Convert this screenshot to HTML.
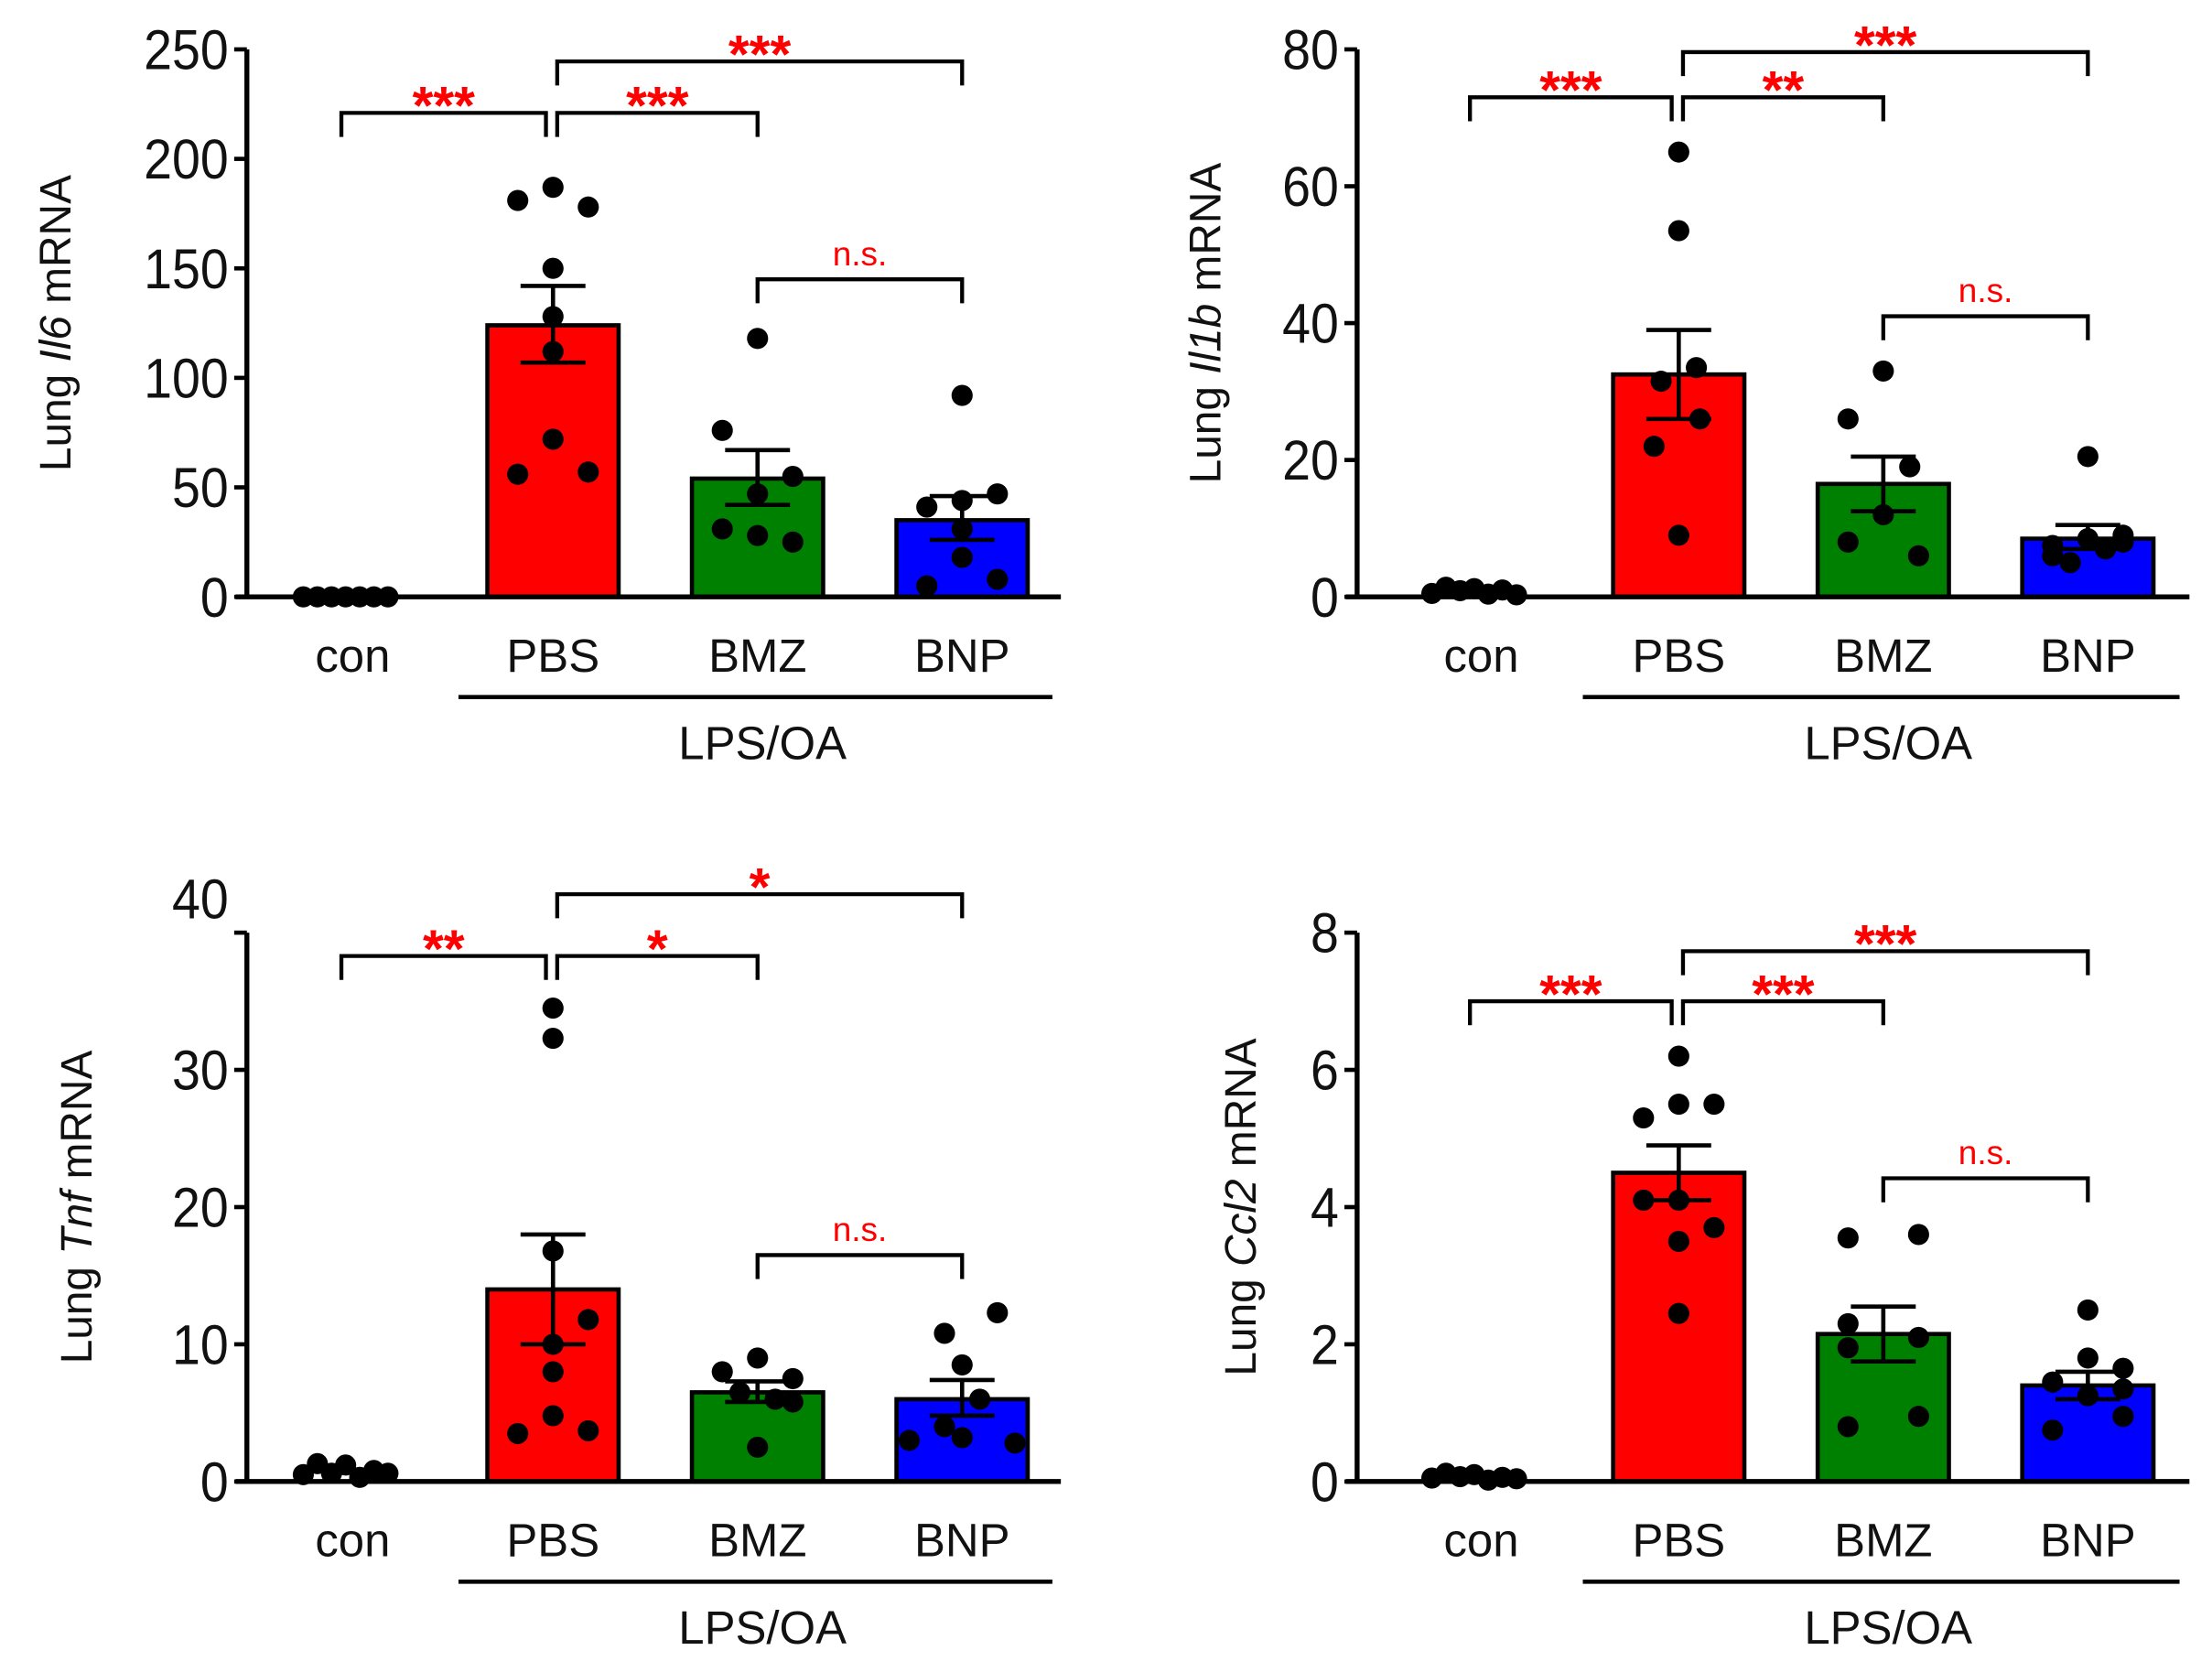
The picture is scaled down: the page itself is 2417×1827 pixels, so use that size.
<!DOCTYPE html>
<html><head><meta charset="utf-8"><style>
html,body{margin:0;padding:0;background:#fff;}
svg{display:block;font-family:"Liberation Sans",Arial,sans-serif;}
</style></head><body>
<svg id="fig" width="2417" height="1827" viewBox="0 0 1568 1185" preserveAspectRatio="none" xmlns="http://www.w3.org/2000/svg"></svg>
<script>
const categories = ["con","PBS","BMZ","BNP"];
const barColors = ["#000","#ff0000","#008000","#0000ff"];
// Panel A: Il6
const il6Means = [0.5,124,54,35];
const il6SemLo = [0,107,42,26];
const il6SemHi = [1,142,67,46];
const il6Points = [[0,0,0,0,0,0,0],[181,187,178,150,128,112,72,56,57],[118,76,55,47,31,25,28],[92,47,44,41,31,18,8,5]];
const il6Ticks = [0,50,100,150,200,250];
// Panel B: Il1b
const il1bMeans = [0.8,32.5,16.5,8.5];
const il1bSemLo = [0.5,26,12.5,7];
const il1bSemHi = [1.1,39,20.5,10.5];
const il1bPoints = [[0.5,1.4,0.9,1.2,0.4,1.0,0.3],[65,53.5,33.5,31.5,26,22,9],[33,26,19,12,8,6],[20.5,8.5,8,7.5,7,5,9,6]];
const il1bTicks = [0,20,40,60,80];
// Panel C: Tnf
const tnfMeans = [0.8,14,6.5,6];
const tnfSemLo = [0.5,10,5.8,4.8];
const tnfSemHi = [1.1,18,7.3,7.4];
const tnfPoints = [[0.5,1.3,0.6,1.2,0.3,0.8,0.6],[34.5,32.3,16.8,11.8,10,8,3.5,3.7,4.8],[9,8,7.5,6.5,6,2.5,5.8],[12.3,10.8,8.5,6,4,3.2,3,2.8]];
const tnfTicks = [0,10,20,30,40];
// Panel D: Ccl2
const ccl2Means = [0.08,4.5,2.15,1.4];
const ccl2SemLo = [0.05,4.1,1.75,1.2];
const ccl2SemHi = [0.11,4.9,2.55,1.6];
const ccl2Points = [[0.05,0.12,0.07,0.1,0.02,0.06,0.04],[6.2,5.5,5.5,5.3,4.1,4.1,3.7,3.5,2.45],[3.55,3.6,2.3,2.1,1.95,0.95,0.8],[2.5,1.8,1.65,1.45,1.35,1.25,0.95,0.75]];
const ccl2Ticks = [0,2,4,6,8];
// jitter (category-width fraction) for dots
const jitter = [[-0.3,-0.2,-0.1,0,0.1,0.2,0.3],[-0.2,0,0.2,0,0,0,0,-0.2,0.2],[0,-0.2,0.2,0,-0.2,0.2,0],[0,0.2,0,-0.2,0,0,0.2,-0.2]];
const jitterB = [[-0.3,-0.2,-0.1,0,0.1,0.2,0.3],[0,0,0.1,-0.1,0.12,-0.14,0],[0,-0.2,0.15,0,-0.2,0.2],[0,0,0.2,-0.2,0.1,-0.1,0.2,-0.2]];
const jitterC = [[-0.3,-0.2,-0.1,0,0.1,0.2,0.3],[0,0,0,0.2,0,0,-0.2,0.2,0],[0,-0.2,0.2,-0.1,0.1,0,0.2],[0.2,-0.1,0,0.1,-0.1,0,-0.3,0.3]];
const jitterD = [[-0.3,-0.2,-0.1,0,0.1,0.2,0.3],[0,0,0.2,-0.2,-0.2,0,0.2,0,0],[-0.2,0.2,-0.2,0.2,-0.2,0.2,-0.2],[0,0,0.2,-0.2,0.2,0,0.2,-0.2]];
const sigLabelsA = ["***","***","***","n.s."];
const sigLabelsB = ["***","**","***","n.s."];
const sigLabelsC = ["**","*","*","n.s."];
const sigLabelsD = ["***","***","***","n.s."];
const bracketA = [221,221,244.5,145];
const bracketB = [73,73,79.6,41];
const bracketC = [38.3,38.3,42.8,16.5];
const bracketD = [7.0,7.0,7.73,4.42];

const NS="http://www.w3.org/2000/svg";
const svg=document.getElementById('fig');
function mk(tag,attrs,parent){const e=document.createElementNS(NS,tag);for(const k in attrs)e.setAttribute(k,attrs[k]);(parent||svg).appendChild(e);return e;}

function panel(p){
  const g=mk('g',{});
  
  
  const ymax=p.ticks[p.ticks.length-1];
  const Y=v=>p.y0-(v/ymax)*(p.y0-p.ytop);
  const X=i=>p.centers[i];
  const bw=93;
  for(let i=1;i<4;i++){
    const r=mk('rect',{x:X(i)-bw/2,y:Y(p.means[i]),width:bw,height:p.y0-Y(p.means[i]),fill:barColors[i],stroke:'#000','stroke-width':3},g);
    
    
  }
  for(let i=0;i<4;i++){
    p.points[i].forEach((v,j)=>{
      const c=mk('circle',{cx:X(i)+(p.jit[i][j]||0)*(i==0?100:125),cy:Y(v),r:7.5,fill:'#000'},g);
      
      
    });
  }
  for(let i=1;i<4;i++){
    const e=mk('path',{d:`M${X(i)} ${Y(p.lo[i])}V${Y(p.hi[i])}M${X(i)-23} ${Y(p.hi[i])}H${X(i)+23}M${X(i)-23} ${Y(p.lo[i])}H${X(i)+23}`,stroke:'#000','stroke-width':3,fill:'none'},g);
    
    
  }
  const ax=mk('path',{d:`M${p.x0} ${p.ytop}V${p.y0}M${p.x0-8} ${p.y0}H${p.x0+p.axLen}`,stroke:'#000','stroke-width':3.5,fill:'none'},g);
  
  
  p.ticks.forEach((t,k)=>{
    const tk=mk('line',{x1:p.x0-9,x2:p.x0,y1:Y(t),y2:Y(t),stroke:'#000','stroke-width':3},g);
    
    
    const ty=(k==p.ticks.length-1&&p.topLabelOffset)?Y(t)+p.topLabelOffset:Y(t);
    const tl=mk('text',{x:p.x0-13,y:ty+14,'text-anchor':'end','font-size':40,fill:'#111',transform:`translate(${p.x0-13},0) scale(0.9,1) translate(${-(p.x0-13)},0)`},g);
    tl.textContent=t;
    
    
  });
  categories.forEach((c,i)=>{
    const t=mk('text',{x:X(i)+(i==0?5:0),y:p.y0+53,'text-anchor':'middle','font-size':33,fill:'#111'},g);
    t.textContent=c;
    
    
  });
  const ln=mk('line',{x1:p.x0+p.lnA,x2:p.x0+p.lnB,y1:p.y0+71,y2:p.y0+71,stroke:'#000','stroke-width':3},g);
  
  
  const gl=mk('text',{x:p.x0+(p.lnA+p.lnB)/2+5,y:p.y0+115,'text-anchor':'middle','font-size':33,fill:'#111'},g);
  gl.textContent='LPS/OA';
  
  
  const yt=mk('text',{transform:`translate(${p.ylx},${(p.ytop+p.y0)/2}) rotate(-90)`,'text-anchor':'middle','font-size':31,fill:'#111'},g);
  yt.innerHTML='Lung <tspan font-style="italic">'+p.gene+'</tspan> mRNA';
  
  
  const pairs=[[0,1],[1,2],[1,3],[2,3]];
  pairs.forEach((pr,k)=>{
    const yy=Y(p.br[k]);
    const xa=X(pr[0])+(pr[0]==1?3:(pr[0]==0?-3:0)), xb=X(pr[1])-(pr[1]==1?5:0);
    const b=mk('path',{d:`M${xa} ${yy+17}V${yy}H${xb}V${yy+17}`,stroke:'#000','stroke-width':2.8,fill:'none'},g);
    
    
    const ns=p.sig[k]=='n.s.';
    const s=mk('text',{x:(xa+xb)/2,y:ns?yy-10:yy+8,'text-anchor':'middle','font-size':ns?24:38,'font-weight':ns?'normal':'bold',fill:'#ff0000'},g);
    s.textContent=p.sig[k];
    
    
  });
}
const cL=[245,392,537,682], cR=[1045,1190,1335,1480];
panel({name:'panel-il6',gene:'Il6',x0:175,y0:423,ytop:35,centers:cL,means:il6Means,lo:il6SemLo,hi:il6SemHi,points:il6Points,ticks:il6Ticks,jit:jitter,sig:sigLabelsA,br:bracketA,ylx:50,axLen:577,lnA:150,lnB:571});
panel({name:'panel-il1b',gene:'Il1b',x0:962,y0:423,ytop:35,centers:cR,means:il1bMeans,lo:il1bSemLo,hi:il1bSemHi,points:il1bPoints,ticks:il1bTicks,jit:jitterB,sig:sigLabelsB,br:bracketB,ylx:865,axLen:590,lnA:160,lnB:583});
panel({name:'panel-tnf',gene:'Tnf',x0:175,y0:1050,ytop:661,centers:cL,means:tnfMeans,lo:tnfSemLo,hi:tnfSemHi,points:tnfPoints,ticks:tnfTicks,jit:jitterC,sig:sigLabelsC,br:bracketC,ylx:65,topLabelOffset:-24,axLen:577,lnA:150,lnB:571});
panel({name:'panel-ccl2',gene:'Ccl2',x0:962,y0:1050,ytop:661,centers:cR,means:ccl2Means,lo:ccl2SemLo,hi:ccl2SemHi,points:ccl2Points,ticks:ccl2Ticks,jit:jitterD,sig:sigLabelsD,br:bracketD,ylx:890,axLen:590,lnA:160,lnB:583});
</script>
</body></html>
